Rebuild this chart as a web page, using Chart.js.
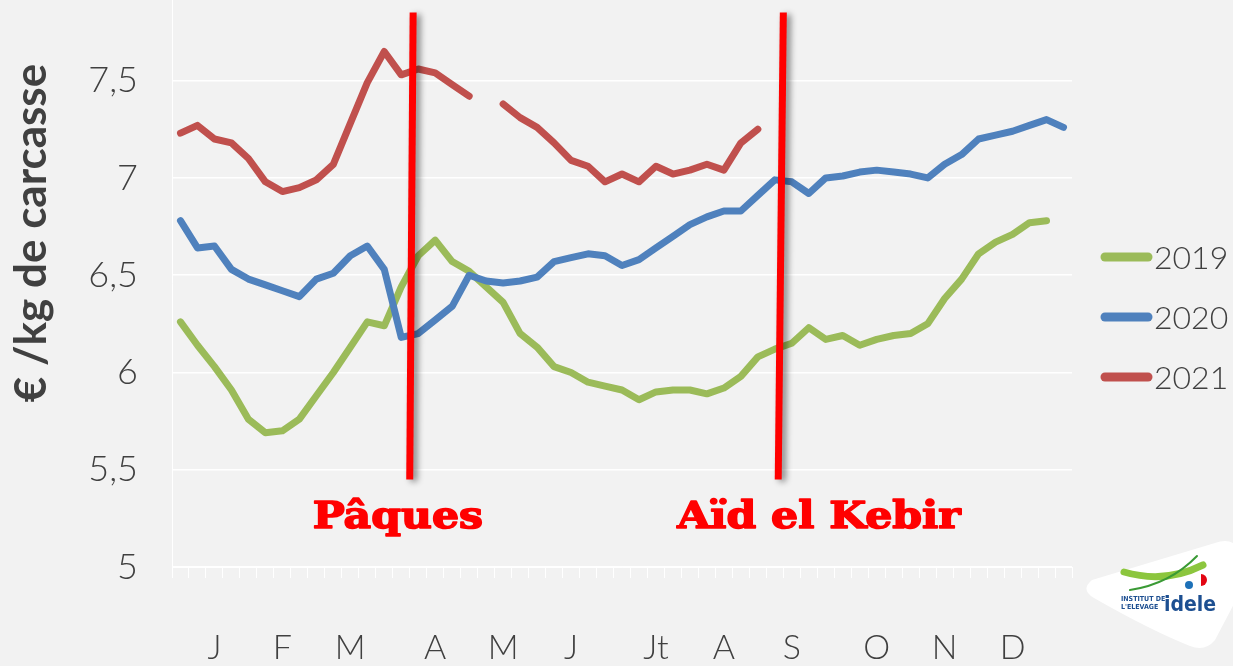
<!DOCTYPE html>
<html lang="fr">
<head>
<meta charset="utf-8">
<title>€ /kg de carcasse — 2019, 2020, 2021</title>
<script src="https://cdn.jsdelivr.net/npm/chart.js@4/dist/chart.umd.min.js"></script>
<style>
  html, body { margin: 0; padding: 0; background: #f2f2f2; }
  canvas { display: block; }
</style>
</head>
<body>
<canvas id="chart" width="1233" height="666"></canvas>
<script>
// weekly price, € /kg de carcasse
const MONTHS      = ['J', 'F', 'M', 'A', 'M', 'J', 'Jt', 'A', 'S', 'O', 'N', 'D'];
const MONTH_WEEK  = [2, 6, 10, 15, 19, 23, 28, 32, 36, 41, 45, 49];
const WEEK_COUNT  = 53;

const PRICES_2019 = [6.26, 6.14, 6.03, 5.91, 5.76, 5.69, 5.70, 5.76, 5.88, 6.00, 6.13, 6.26, 6.24, 6.44, 6.60, 6.68, 6.57, 6.52, 6.44, 6.36, 6.20, 6.13, 6.03, 6.00, 5.95, 5.93, 5.91, 5.86, 5.90, 5.91, 5.91, 5.89, 5.92, 5.98, 6.08, 6.12, 6.15, 6.23, 6.17, 6.19, 6.14, 6.17, 6.19, 6.20, 6.25, 6.38, 6.48, 6.61, 6.67, 6.71, 6.77, 6.78];
const PRICES_2020 = [6.78, 6.64, 6.65, 6.53, 6.48, 6.45, 6.42, 6.39, 6.48, 6.51, 6.60, 6.65, 6.53, 6.18, 6.20, 6.27, 6.34, 6.50, 6.47, 6.46, 6.47, 6.49, 6.57, 6.59, 6.61, 6.60, 6.55, 6.58, 6.64, 6.70, 6.76, 6.80, 6.83, 6.83, 6.91, 6.99, 6.98, 6.92, 7.00, 7.01, 7.03, 7.04, 7.03, 7.02, 7.00, 7.07, 7.12, 7.20, 7.22, 7.24, 7.27, 7.30, 7.26];
const PRICES_2021 = [7.23, 7.27, 7.20, 7.18, 7.10, 6.98, 6.93, 6.95, 6.99, 7.07, 7.28, 7.49, 7.65, 7.53, 7.56, 7.54, 7.48, 7.42, null, 7.38, 7.31, 7.26, 7.18, 7.09, 7.06, 6.98, 7.02, 6.98, 7.06, 7.02, 7.04, 7.07, 7.04, 7.18, 7.25];

const SERIES_NAMES  = ['2019', '2020', '2021'];
const SERIES_COLORS = ['#9bbb59', '#4f81bd', '#c0504d'];

const Y_MIN = 5, Y_MAX = 7.91, Y_STEP = 0.5;
const Y_TITLE = '€ /kg de carcasse';

// hand-drawn event markers (in week / price units)
const EVENTS = [
  { label: 'Pâques',       weekTop: 13.7, weekBottom: 13.5, weekText: 12.8 },
  { label: 'Aïd el Kebir', weekTop: 35.5, weekBottom: 35.2, weekText: 37.6 },
];
const EVENT_TOP = 7.85, EVENT_BOTTOM = 5.45, EVENT_TEXT = 5.2;

const WEEK_LABELS = Array.from({ length: WEEK_COUNT }, (_, i) => {
  const m = MONTH_WEEK.indexOf(i);
  return m >= 0 ? MONTHS[m] : '';
});

const TEXT_COLOR = '#404040';
const LIGHT_FONT = 'Lato';

const yTitlePlugin = {
  id: 'yTitle',
  afterDraw(chart) {
    const { ctx } = chart;
    ctx.save();
    ctx.translate(46, 233);
    ctx.rotate(-Math.PI / 2);
    ctx.font = `bold 44px ${LIGHT_FONT}`;
    ctx.fillStyle = TEXT_COLOR;
    ctx.textAlign = 'center';
    ctx.textBaseline = 'alphabetic';
    ctx.fillText(Y_TITLE, 0, 0);
    ctx.restore();
  },
};

const eventsPlugin = {
  id: 'events',
  afterDatasetsDraw(chart) {
    const { ctx, scales: { x, y } } = chart;
    EVENTS.forEach(ev => {
      ctx.save();
      ctx.strokeStyle = '#ff0000';
      ctx.lineWidth = 7;
      ctx.shadowColor = 'rgba(0,0,0,0.45)';
      ctx.shadowBlur = 6;
      ctx.shadowOffsetX = 4;
      ctx.shadowOffsetY = 2;
      ctx.beginPath();
      ctx.moveTo(x.getPixelForValue(ev.weekTop), y.getPixelForValue(EVENT_TOP));
      ctx.lineTo(x.getPixelForValue(ev.weekBottom), y.getPixelForValue(EVENT_BOTTOM));
      ctx.stroke();
      ctx.restore();

      // heavy slab look: widen and thicken the serif bold face
      ctx.save();
      ctx.translate(x.getPixelForValue(ev.weekText), y.getPixelForValue(EVENT_TEXT));
      ctx.scale(1.12, 1);
      ctx.font = 'bold 38px "DejaVu Serif"';
      ctx.fillStyle = '#ff0000';
      ctx.strokeStyle = '#ff0000';
      ctx.lineWidth = 1.6;
      ctx.lineJoin = 'round';
      ctx.textAlign = 'center';
      ctx.textBaseline = 'alphabetic';
      ctx.fillText(ev.label, 0, 0);
      ctx.strokeText(ev.label, 0, 0);
      ctx.restore();
    });
  },
};

const legendPlugin = {
  id: 'sideLegend',
  afterDraw(chart) {
    const { ctx, chartArea } = chart;
    const x0 = chartArea.right + 33;
    ctx.save();
    chart.data.datasets.forEach((ds, i) => {
      const rowY = 317 + (i - 1) * 60;
      ctx.strokeStyle = ds.borderColor;
      ctx.lineWidth = 9;
      ctx.lineCap = 'round';
      ctx.beginPath();
      ctx.moveTo(x0, rowY);
      ctx.lineTo(x0 + 43, rowY);
      ctx.stroke();
      ctx.font = `300 32px ${LIGHT_FONT}`;
      ctx.fillStyle = TEXT_COLOR;
      ctx.textAlign = 'left';
      ctx.textBaseline = 'middle';
      ctx.fillText(ds.label, x0 + 49, rowY + 2);
    });
    ctx.restore();
  },
};

const logoPlugin = {
  id: 'logo',
  afterDraw(chart) {
    const { ctx } = chart;
    ctx.save();
    ctx.fillStyle = '#ffffff';
    ctx.beginPath();
    ctx.moveTo(1092, 580);
    ctx.quadraticCurveTo(1080, 590, 1094, 598);
    ctx.quadraticCurveTo(1150, 630, 1190, 646);
    ctx.quadraticCurveTo(1205, 652, 1215, 640);
    ctx.lineTo(1236, 600);
    ctx.lineTo(1236, 545);
    ctx.quadraticCurveTo(1228, 538, 1215, 543);
    ctx.closePath();
    ctx.fill();

    ctx.lineCap = 'round';
    ctx.strokeStyle = '#8cc63e';
    ctx.lineWidth = 7;
    ctx.beginPath();
    ctx.moveTo(1124, 572);
    ctx.quadraticCurveTo(1165, 584, 1203, 565);
    ctx.stroke();
    ctx.strokeStyle = '#3a9a35';
    ctx.lineWidth = 2;
    ctx.beginPath();
    ctx.moveTo(1130, 590);
    ctx.quadraticCurveTo(1170, 584, 1197, 556);
    ctx.stroke();

    ctx.fillStyle = '#e30613';
    ctx.beginPath();
    ctx.arc(1201, 580, 6, -Math.PI / 2, Math.PI / 2);
    ctx.fill();
    ctx.fillStyle = '#1d71b8';
    ctx.beginPath();
    ctx.arc(1189, 585, 4, 0, Math.PI * 2);
    ctx.fill();

    ctx.fillStyle = '#1d4f91';
    ctx.font = 'bold 7px "DejaVu Sans Condensed", "DejaVu Sans"';
    ctx.textBaseline = 'alphabetic';
    ctx.fillText('INSTITUT DE', 1121, 601);
    ctx.fillText("L'ELEVAGE", 1121, 609);
    ctx.font = 'bold 21px "DejaVu Sans Condensed", "DejaVu Sans"';
    ctx.fillText('idele', 1164, 611);
    ctx.restore();
  },
};

function buildChart(canvas) {
  const ctx = canvas.getContext('2d');
  const seriesData = [PRICES_2019, PRICES_2020, PRICES_2021];

  return new Chart(ctx, {
    type: 'line',
    data: {
      labels: WEEK_LABELS,
      datasets: seriesData.map((data, i) => ({
        label: SERIES_NAMES[i],
        data,
        borderColor: SERIES_COLORS[i],
        backgroundColor: SERIES_COLORS[i],
        borderWidth: 7,
        borderJoinStyle: 'round',
        borderCapStyle: 'round',
        pointRadius: 0,
        tension: 0,
        spanGaps: false,
        order: seriesData.length - i,
      })),
    },
    options: {
      responsive: false,
      devicePixelRatio: 1,
      animation: false,
      events: [],
      layout: { padding: { top: 0, right: 161, bottom: 0, left: 0 } },
      plugins: {
        legend: { display: false },
        tooltip: { enabled: false },
      },
      scales: {
        x: {
          type: 'category',
          offset: true,
          grid: { offset: true, drawOnChartArea: false, drawTicks: true, tickLength: 11, color: '#ffffff', lineWidth: 1 },
          border: { display: true, color: '#ffffff', width: 1 },
          ticks: {
            autoSkip: false, maxRotation: 0, minRotation: 0, padding: 50,
            color: TEXT_COLOR, font: { family: LIGHT_FONT, size: 34, weight: '300' },
          },
          afterFit: s => { s.height = 99; },
        },
        y: {
          min: Y_MIN,
          max: Y_MAX,
          grid: { color: '#ffffff', lineWidth: 1.5, drawTicks: true, tickLength: 34, tickColor: 'rgba(0,0,0,0)' },
          border: { display: true, color: '#ffffff', width: 1 },
          ticks: {
            stepSize: Y_STEP,
            padding: 0,
            color: TEXT_COLOR,
            // tiny line height so the top label does not push the plot down
            font: { family: LIGHT_FONT, size: 36, weight: '300', lineHeight: 0.05 },
            callback: v => (Math.abs(v / Y_STEP - Math.round(v / Y_STEP)) < 1e-6 ? String(v).replace('.', ',') : null),
          },
          afterFit: s => { s.width = 172; },
        },
      },
    },
    plugins: [eventsPlugin, yTitlePlugin, legendPlugin, logoPlugin],
  });
}

try {
  buildChart(document.getElementById('chart'));
} catch (err) {
  console.error('chart error:', err);
}
</script>
</body>
</html>
